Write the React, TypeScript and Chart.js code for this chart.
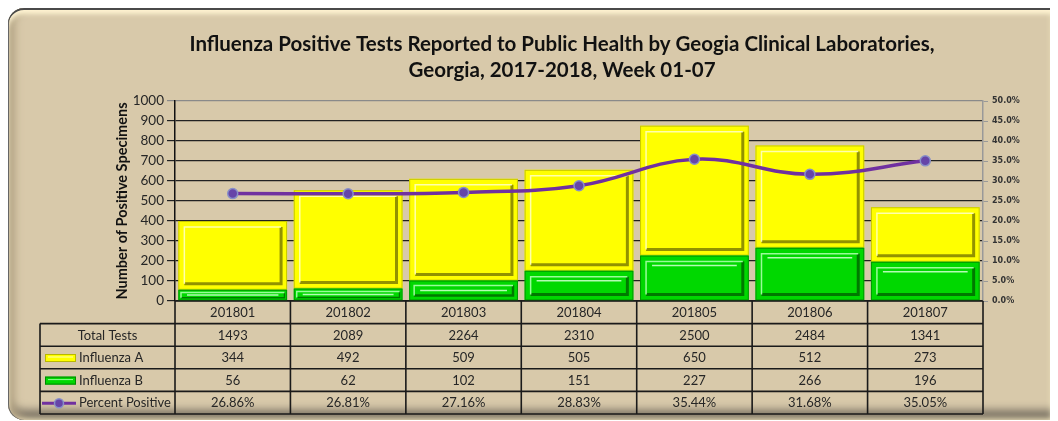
import React, { useEffect, useRef } from "react";
import { Chart, registerables } from "chart.js";

Chart.register(...registerables);

const weeks = ["201801", "201802", "201803", "201804", "201805", "201806", "201807"];
const totalTests = [1493, 2089, 2264, 2310, 2500, 2484, 1341];
const influenzaA = [344, 492, 509, 505, 650, 512, 273];
const influenzaB = [56, 62, 102, 151, 227, 266, 196];
const percentPositive = [26.86, 26.81, 27.16, 28.83, 35.44, 31.68, 35.05];
const titleLines = [
  "Influenza Positive Tests Reported to Public Health by Geogia Clinical Laboratories,",
  "Georgia, 2017-2018, Week 01-07",
];
const rowLabels = ["Total Tests", "Influenza A", "Influenza B", "Percent Positive"];

const FONT = "Lato, 'Open Sans', sans-serif";
const W = 1050;
const H = 412;

type Shade = { light: string; dark: string; edge: string; hi: string };
const shades: Record<number, Shade> = {
  0: { light: "rgba(170,255,170,0.9)", dark: "rgba(0,90,0,0.75)", edge: "#009900", hi: "rgba(200,255,200,0.9)" },
  1: { light: "rgba(255,255,190,0.9)", dark: "rgba(110,110,0,0.75)", edge: "#C8C800", hi: "rgba(255,255,220,0.9)" },
};

const bevelPlugin = {
  id: "bevel",
  afterDatasetDraw(chart: any, args: any) {
    const idx = args.index;
    if (idx > 1) return;
    const s = shades[idx];
    const ctx = chart.ctx;
    const meta = args.meta;
    ctx.save();
    meta.data.forEach((bar: any) => {
      const { x, y, base, width } = bar.getProps(["x", "y", "base", "width"], true);
      const l = x - width / 2;
      const r = x + width / 2;
      const t = Math.min(y, base);
      const b = Math.max(y, base);
      const h = b - t;
      ctx.strokeStyle = s.edge;
      ctx.lineWidth = 1;
      ctx.strokeRect(l + 0.5, t + 0.5, width - 1, h - 1);
      const d = Math.min(6, h / 4);
      const il = l + d, ir = r - d, it = t + d, ib = b - d;
      ctx.strokeStyle = s.dark;
      ctx.lineWidth = Math.min(3, Math.max(1, h / 8));
      ctx.beginPath();
      ctx.moveTo(ir, it);
      ctx.lineTo(ir, ib);
      ctx.lineTo(il, ib);
      ctx.stroke();
      ctx.strokeStyle = s.light;
      ctx.lineWidth = 1.5;
      ctx.beginPath();
      ctx.moveTo(il, ib);
      ctx.lineTo(il, it);
      ctx.lineTo(ir, it);
      ctx.stroke();
      if (idx === 0) {
        ctx.strokeStyle = s.hi;
        ctx.lineWidth = 1.5;
        ctx.beginPath();
        const hy = h < 20 ? t + h / 2 : it + 4;
        ctx.moveTo(il + 6, hy);
        ctx.lineTo(ir - 6, hy);
        ctx.stroke();
      }
    });
    ctx.restore();
  },
};

function drawBarMarker(ctx: CanvasRenderingContext2D, x0: number, x1: number, cy: number, fill: string, edge: string, hi: string) {
  ctx.fillStyle = fill;
  ctx.fillRect(x0, cy - 4, x1 - x0, 8);
  ctx.strokeStyle = edge;
  ctx.lineWidth = 1;
  ctx.strokeRect(x0 + 0.5, cy - 3.5, x1 - x0 - 1, 7);
  ctx.strokeStyle = hi;
  ctx.beginPath();
  ctx.moveTo(x0 + 3, cy - 1);
  ctx.lineTo(x1 - 3, cy - 1);
  ctx.stroke();
}

const tablePlugin = {
  id: "dataTable",
  afterDraw(chart: any) {
    const { ctx, chartArea } = chart;
    const xs = chart.scales.x;
    const n = weeks.length;
    const colW = (chartArea.right - chartArea.left) / n;
    const top = chartArea.bottom;
    const rowH = 22.6;
    const labelLeft = 32;
    const rows = 5;
    ctx.save();
    ctx.strokeStyle = "#1a1a1a";
    ctx.lineWidth = 1.6;
    ctx.beginPath();
    for (let r = 0; r <= rows; r++) {
      const yy = top + r * rowH;
      ctx.moveTo(r === 0 ? chartArea.left : labelLeft, yy);
      ctx.lineTo(chartArea.right, yy);
    }
    ctx.moveTo(labelLeft, top + rowH);
    ctx.lineTo(labelLeft, top + rows * rowH);
    for (let i = 0; i <= n; i++) {
      const xx = chartArea.left + i * colW;
      ctx.moveTo(xx, top);
      ctx.lineTo(xx, top + rows * rowH);
    }
    ctx.stroke();

    ctx.fillStyle = "#262626";
    ctx.font = `13px ${FONT}`;
    ctx.textBaseline = "middle";
    ctx.textAlign = "center";
    const rowsData: string[][] = [
      weeks,
      totalTests.map(String),
      influenzaA.map(String),
      influenzaB.map(String),
      percentPositive.map((v) => v.toFixed(2) + "%"),
    ];
    rowsData.forEach((vals, r) => {
      const cy = top + r * rowH + rowH / 2 + 0.5;
      vals.forEach((v, i) => {
        ctx.fillText(v, xs.getPixelForValue(i), cy);
      });
    });
    const labCy = (r: number) => top + r * rowH + rowH / 2 + 0.5;
    ctx.fillText(rowLabels[0], (labelLeft + chartArea.left) / 2, labCy(1));
    ctx.textAlign = "left";
    drawBarMarker(ctx, 37, 68, labCy(2), "#FFFF00", "#B8B800", "#FFFFB0");
    ctx.fillStyle = "#262626";
    ctx.fillText(rowLabels[1], 71, labCy(2));
    drawBarMarker(ctx, 37, 68, labCy(3), "#00D800", "#008800", "#90FF90");
    ctx.fillStyle = "#262626";
    ctx.fillText(rowLabels[2], 71, labCy(3));
    const ly = labCy(4);
    ctx.strokeStyle = "#7030A0";
    ctx.lineWidth = 3;
    ctx.beginPath();
    ctx.moveTo(34, ly);
    ctx.lineTo(68, ly);
    ctx.stroke();
    ctx.fillStyle = "#6645A8";
    ctx.strokeStyle = "#8890C8";
    ctx.lineWidth = 1.5;
    ctx.beginPath();
    ctx.arc(51, ly, 4.5, 0, Math.PI * 2);
    ctx.fill();
    ctx.stroke();
    ctx.fillStyle = "#262626";
    ctx.fillText(rowLabels[3], 71, ly);
    ctx.restore();
  },
};

export default function App() {
  const ref = useRef<HTMLCanvasElement | null>(null);
  useEffect(() => {
    if (!ref.current) return;
    const chart = new Chart(ref.current, {
      type: "bar",
      data: {
        labels: weeks,
        datasets: [
          {
            type: "bar",
            label: "Influenza B",
            data: influenzaB,
            backgroundColor: "#00D800",
            yAxisID: "y",
            stack: "flu",
            order: 1,
            categoryPercentage: 1,
            barPercentage: 0.942,
          },
          {
            type: "bar",
            label: "Influenza A",
            data: influenzaA,
            backgroundColor: "#FFFF00",
            yAxisID: "y",
            stack: "flu",
            order: 1,
            categoryPercentage: 1,
            barPercentage: 0.942,
          },
          {
            type: "line",
            label: "Percent Positive",
            data: percentPositive,
            yAxisID: "y1",
            borderColor: "#7030A0",
            borderWidth: 3.5,
            tension: 0.4,
            pointRadius: 5,
            pointBackgroundColor: "#6645A8",
            pointBorderColor: "#8890C8",
            pointBorderWidth: 1.5,
            order: 0,
          } as any,
        ],
      },
      options: {
        responsive: false,
        animation: false,
        layout: { padding: { left: 66, right: 8, top: 0, bottom: 119 } },
        plugins: {
          legend: { display: false },
          tooltip: { enabled: false },
          title: {
            display: true,
            text: titleLines,
            color: "#111",
            font: { family: FONT, size: 20.5, weight: "bold", lineHeight: 1.27 },
            padding: { top: 23, bottom: 18 },
          },
        },
        scales: {
          x: {
            display: false,
            stacked: true,
            offset: true,
          },
          y: {
            position: "left",
            stacked: true,
            min: 0,
            max: 1000,
            afterFit: (s: any) => {
              s.width = 101;
            },
            ticks: {
              stepSize: 100,
              color: "#262626",
              padding: 3,
              font: { family: FONT, size: 13.5 },
              callback: (v: any) => String(v),
            },
            grid: {
              color: (c: any) => (c.tick && c.tick.value === 1000 ? "#8a8a8a" : "#222"),
              lineWidth: 1.2,
              tickLength: 8,
            },
            border: { display: true, color: "#111", width: 1.5 },
            title: {
              display: true,
              text: "Number of Positive Specimens",
              color: "#111",
              padding: { top: 40, bottom: 0 },
              font: { family: FONT, size: 14.5, weight: "bold", lineHeight: 1.2 },
            },
          },
          y1: {
            position: "right",
            min: 0,
            max: 50,
            afterFit: (s: any) => {
              s.width = 67;
            },
            ticks: {
              stepSize: 5,
              color: "#333",
              padding: 4,
              font: { family: "'DejaVu Sans', sans-serif", size: 8, weight: "bold" },
              callback: (v: any) => Number(v).toFixed(1) + "%",
            },
            grid: { drawOnChartArea: false, color: "#999", tickLength: 5 },
            border: { display: true, color: "#999", width: 1.5 },
          },
        },
      },
      plugins: [bevelPlugin, tablePlugin],
    });
    return () => chart.destroy();
  }, []);

  return (
    <div
      style={{
        position: "relative",
        width: W,
        height: H,
        background: "#D8C9AA",
        borderRadius: "16px 0 0 16px",
        boxShadow:
          "inset 0 2px 0 #4a4a4a, inset 1px 0 0 #666, inset 0 6px 5px #fff4d2, inset -6px 0 6px #fff3cc, inset 7px 0 8px #b8a888, inset 0 -10px 8px #7a7264",
        overflow: "hidden",
      }}
    >
      <canvas
        ref={ref}
        width={W}
        height={H}
        style={{ position: "absolute", left: 0, top: 0, width: W, height: H }}
      />
    </div>
  );
}
